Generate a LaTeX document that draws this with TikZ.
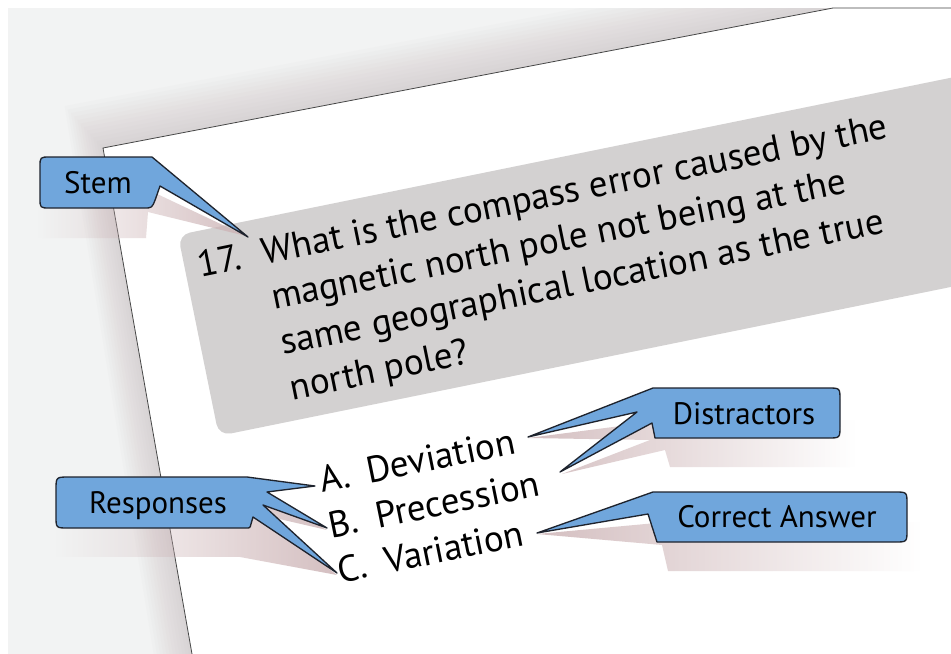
\documentclass[tikz,border=0pt]{standalone}
\usepackage{fontspec}
\setmainfont{PT Sans}
\usetikzlibrary{fadings}
\tikzfading[name=fadetoleft, left color=transparent!100, right color=transparent!0]
\tikzfading[name=fadetoright, left color=transparent!0, right color=transparent!100]
\definecolor{bgc}{RGB}{242,243,243}
\definecolor{pshadow}{RGB}{165,150,155}
\definecolor{qbox}{RGB}{211,209,209}
\definecolor{cblue}{RGB}{112,166,220}
\definecolor{cline}{RGB}{30,35,45}
\definecolor{cshadow}{RGB}{205,180,182}
\definecolor{pedgec}{RGB}{70,70,70}
\begin{document}
\begin{tikzpicture}[x=0.75pt,y=-0.75pt,
  callout/.style={fill=cblue, draw=cline, line width=1pt, line join=round},
  calltext/.style={font=\fontsize{23.25}{28}\selectfont, text=black, inner sep=0pt, anchor=base},
  cshad/.style={fill=cshadow, opacity=0.85},
  qtext/.style={font=\fontsize{27.75}{34.5}\selectfont, inner sep=0pt, anchor=base west, rotate=11.5},
  pedge/.style={draw=pedgec, line width=0.6pt},
]
\useasboundingbox (0,0) rectangle (951,654);
\fill[white] (0,0) rectangle (951,654);
\fill[bgc] (8,8) rectangle (951,654);
% page shadow
\begin{scope}
\clip (8,8) rectangle (951,654);
\foreach \k in {1,...,12}{
  \fill[pshadow, opacity=0.028] (192,654) -- ({192-3.2*\k},654) -- ({103-3.2*\k},{148-3.5*\k}) -- (833,{8-4*\k}) -- (833,8) -- (103,148) -- cycle;
}
\end{scope}
% page
\fill[white] (103,148) -- (833,8) -- (951,8) -- (951,654) -- (192,654) -- cycle;
\draw[pedge] (192,654) -- (103,148) -- (833,8) -- (951,8);
% question box
\begin{scope}[shift={(178,235)}, rotate=11.5]
\fill[qbox, rounded corners=9pt] (0,0) rectangle (900,205);
\end{scope}
\node[qtext] (q) at (200,278) {\begin{tabular}[t]{@{}l@{}l@{}}\makebox[49.5pt][l]{17.} & What is the compass error caused by the\\
 & magnetic north pole not being at the\\
 & same geographical location as the true\\
 & north pole?\end{tabular}};
\node[qtext] (opts) at (322,493) {\begin{tabular}[t]{@{}l@{}l@{}}\makebox[36pt][l]{A.} & Deviation\\
B. & Precession\\
C. & Variation\end{tabular}};
% shadows of callouts
\fill[cshad, path fading=fadetoleft] (38,205) -- (155,193) -- (246,236) -- (148,212) -- (146,238) -- (38,238) -- cycle;
\fill[cshad, path fading=fadetoleft] (56,505) -- (265,497) -- (327,530) -- (262,515) -- (337,575) -- (240,557) -- (56,557) -- cycle;
\fill[cshad, path fading=fadetoright] (528,438) -- (667,420) -- (855,420) -- (855,467) -- (670,467) -- (665,450) -- (562,474) -- (650,440) -- cycle;
\fill[cshad, path fading=fadetoright] (537,534) -- (667,522) -- (920,522) -- (920,571) -- (668,571) -- (662,545) -- cycle;
% callouts
\draw[callout] (40,198) -- (40,167) .. controls (40,157) .. (50,157) -- (152,157) -- (248,237) -- (160,186) -- (155.5,199) .. controls (152,208) .. (144,208) -- (50,208) .. controls (40,208) .. (40,198) -- cycle;
\node[calltext] (stem) at (98,193) {Stem};
\draw[callout] (56,490) .. controls (56,477) .. (69,477) -- (247,477) -- (315,486) -- (267,492) -- (327,528) -- (263,505) -- (337,573) -- (253,517) -- (251,524) .. controls (250,528) .. (246,528) -- (68,528) .. controls (56,528) .. (56,516) -- cycle;
\node[calltext] (resp) at (158,513) {Responses};
\draw[callout] (653,388) -- (828,388) .. controls (840,388) .. (840,400) -- (840,426) .. controls (840,438) .. (828,438) -- (655,438) -- (652,423) -- (560,472) -- (637,412) -- (528,437) -- cycle;
\node[calltext] (dist) at (744,424) {Distractors};
\draw[callout] (653,492) -- (895,492) .. controls (907,492) .. (907,504) -- (907,530) .. controls (907,542) .. (895,542) -- (657,542) -- (648,514) -- (537,533) -- cycle;
\node[calltext] (corr) at (777,527) {Correct Answer};
\end{tikzpicture}
\end{document}
